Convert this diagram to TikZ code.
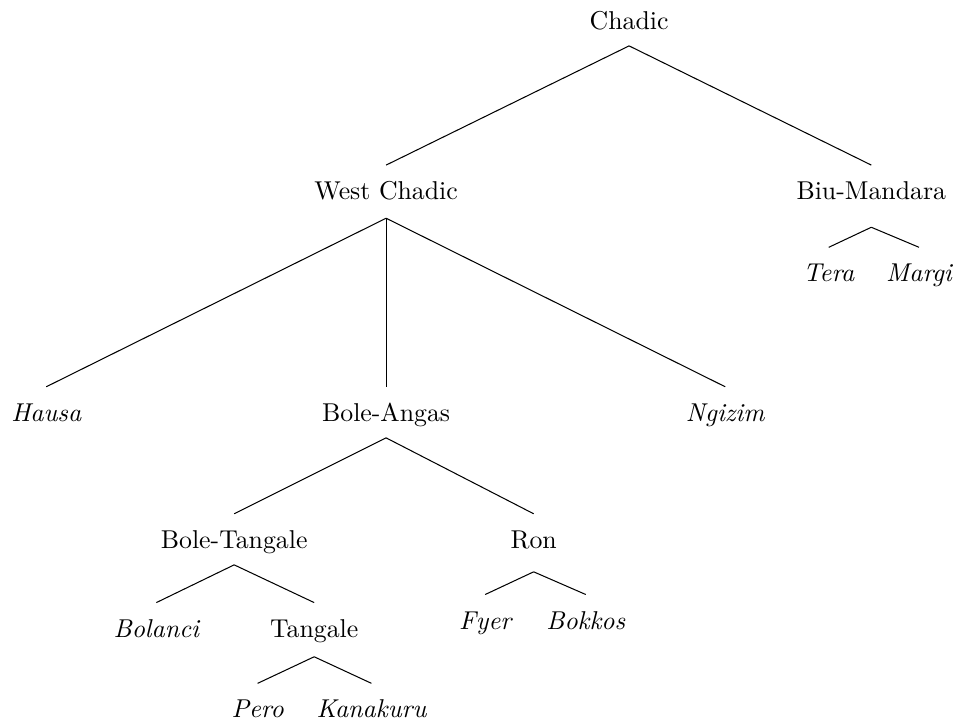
\documentclass[tikz,border=0pt]{standalone}
\usepackage{amsmath,tikz}

\begin{document}
\begin{tikzpicture}[lab/.style={anchor=base,inner sep=0pt,text height=13.2pt,text depth=6.2pt},
	leaf/.style={lab,font=\itshape}]
\useasboundingbox (0,0) rectangle (13.01,-9.84);
\node[lab] (chadic) at (8.57,-0.40) {Chadic};
\node[lab,text depth=7pt] (westchadic) at (5.26,-2.72) {West Chadic};
\node[lab,text depth=10.5pt] (biumandara) at (11.87,-2.72) {Biu-Mandara};
\node[leaf] (tera) at (11.29,-3.84) {Tera};
\node[leaf] (margi) at (12.52,-3.84) {Margi};
\node[leaf] (hausa) at (0.63,-5.74) {Hausa};
\node[lab] (boleangas) at (5.26,-5.74) {Bole-Angas};
\node[leaf] (ngizim) at (9.88,-5.74) {Ngizim};
\node[lab] (boletangale) at (3.19,-7.47) {Bole-Tangale};
\node[lab,text depth=8.9pt] (ron) at (7.27,-7.47) {Ron};
\node[leaf] (bolanci) at (2.13,-8.68) {Bolanci};
\node[lab,text depth=7.4pt] (tangale) at (4.28,-8.68) {Tangale};
\node[leaf] (fyer) at (6.61,-8.57) {Fyer};
\node[leaf] (bokkos) at (7.98,-8.57) {Bokkos};
\node[leaf] (pero) at (3.51,-9.78) {Pero};
\node[leaf] (kanakuru) at (5.06,-9.78) {Kanakuru};
\foreach \p/\c in {chadic/westchadic,chadic/biumandara,biumandara/tera,biumandara/margi,
	westchadic/hausa,westchadic/boleangas,westchadic/ngizim,boleangas/boletangale,boleangas/ron,
	boletangale/bolanci,boletangale/tangale,ron/fyer,ron/bokkos,tangale/pero,tangale/kanakuru}
	\draw (\p.south) -- (\c.north);
\end{tikzpicture}
\end{document}
